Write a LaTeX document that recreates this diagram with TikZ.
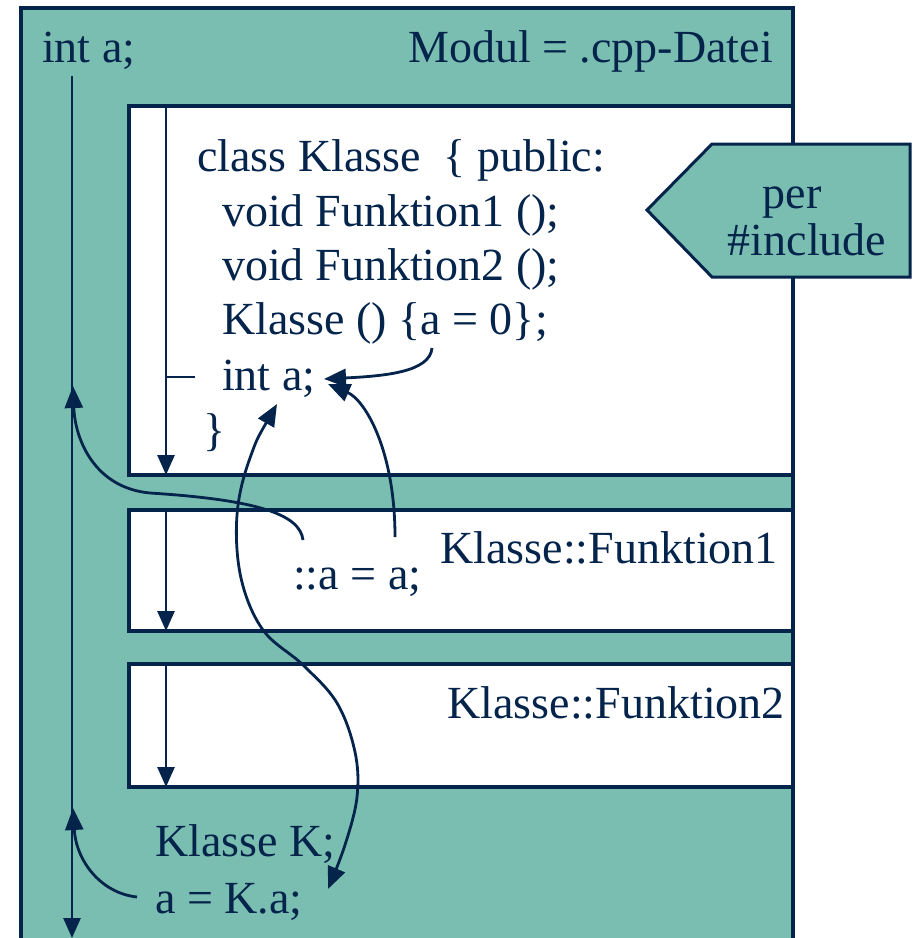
\documentclass[tikz,border=0pt]{standalone}
\usepackage{fontspec}
\setmainfont{Liberation Serif}
\usetikzlibrary{arrows.meta}
\definecolor{tealfill}{RGB}{122,190,177}
\definecolor{navy}{RGB}{4,36,76}

\begin{document}
\begin{tikzpicture}[x=1pt,y=-1pt,
  txt/.style={inner sep=0pt, text=navy, font=\fontsize{46}{55}\selectfont},
  frame/.style={draw=navy, line width=3.4pt},
  flow/.style={draw=navy, line width=2.6pt, -{Triangle[length=20pt,width=17pt]}},
  link/.style={draw=navy, line width=2.8pt, -{Triangle[length=22pt,width=18pt]}},
  twoway/.style={draw=navy, line width=2.8pt, {Triangle[length=22pt,width=18pt]}-{Triangle[length=22pt,width=18pt]}},
]
\useasboundingbox (0,0) rectangle (913,938);
\clip (0,0) rectangle (913,938);

% module frame and the three scopes inside it
\path[frame, fill=tealfill] (21,8) rectangle (793,970);
\path[frame, fill=white] (129,106) rectangle (793,475);
\path[frame, fill=white] (129,510) rectangle (793,631);
\path[frame, fill=white] (129,664) rectangle (793,787);

% lifetime lines
\coordinate (lt) at (72,76);
\coordinate (lb) at (72,938);
\draw[flow] (lt) -- (lb);
\coordinate (c1t) at (166,106);
\coordinate (c1b) at (166,475);
\draw[flow] (c1t) -- (c1b);
\coordinate (c2t) at (166,510);
\coordinate (c2b) at (166,631);
\draw[flow] (c2t) -- (c2b);
\coordinate (c3t) at (166,664);
\coordinate (c3b) at (166,787);
\draw[flow] (c3t) -- (c3b);
\coordinate (tickA) at (166,377);
\coordinate (tickB) at (195,377);
\draw[navy, line width=2.6pt] (tickA) -- (tickB);

% include tag
\path[draw=navy, line width=3pt, fill=tealfill]
  (647,210) -- (712,144) -- (910,144) -- (910,277) -- (712,277) -- cycle;
\node[txt, anchor=base] (per) at (792,208) {per};
\node[txt, anchor=base] (incl) at (807,255) {\#include};

% texts
\node[txt, anchor=base west] (ga) at (42,62) {int a;};
\node[txt, anchor=base east] (modul) at (773,62) {Modul = .cpp-Datei};

\node[txt, anchor=base west] (l1) at (197,171) {class Klasse\ \ \{ public:};
\node[txt, anchor=base west] (l2) at (222,226) {void Funktion1 ();};
\node[txt, anchor=base west] (l3) at (222,280) {void Funktion2 ();};
\node[txt, anchor=base west] (l4) at (222,334) {Klasse () \{a = 0\};};
\node[txt, anchor=base west] (l5) at (222,390) {int a;};
\node[txt, anchor=base west] (l6) at (203,445) {\}};

\node[txt, anchor=base east] (f1) at (778,563) {Klasse::Funktion1};
\node[txt, anchor=base west] (asg) at (293,589) {::a = a;};
\node[txt, anchor=base east] (f2) at (785,718) {Klasse::Funktion2};

\node[txt, anchor=base west] (kk) at (155,856) {Klasse K;};
\node[txt, anchor=base west] (ka) at (155,913) {a = K.a;};

% access arrows
\coordinate (aS) at (432,348);
\coordinate (aT) at (324,379);
\draw[link] (aS) .. controls (430,372) and (385,376) .. (aT);

\coordinate (bS) at (395,537);
\coordinate (bT) at (328,384);
\draw[link] (bS) .. controls (395,450) and (365,400) .. (bT);

\coordinate (cT) at (277,404);
\coordinate (cB) at (328,889);
\draw[twoway] plot[smooth, tension=0.6] coordinates {
  (cT) (250,458) (237,515) (241,578) (263,630) (303,665)
  (337,703) (355,752) (357,797) (345,845) (cB)};

\coordinate (dS) at (303,540);
\coordinate (dM) at (150,493);
\coordinate (dT) at (73,386);
\draw[link] (dS) .. controls (300,515) and (260,500) .. (dM)
  .. controls (95,488) and (75,440) .. (dT);

\coordinate (eS) at (137,897);
\coordinate (eT) at (73,808);
\draw[link] (eS) .. controls (100,893) and (76,860) .. (eT);
\end{tikzpicture}
\end{document}
